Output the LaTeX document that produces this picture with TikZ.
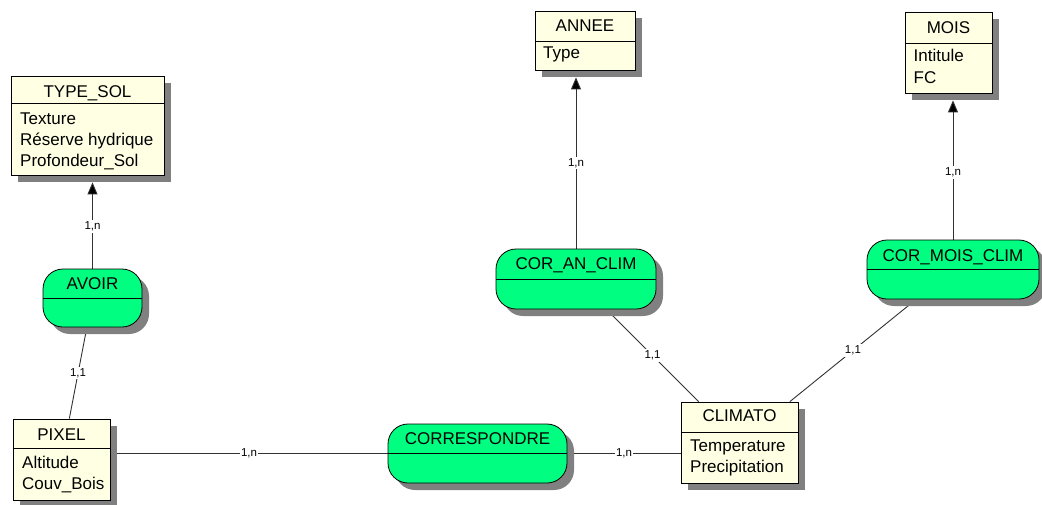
\documentclass[tikz,border=0pt]{standalone}
\usepackage{fontspec}
\setmainfont{Liberation Sans}
\usetikzlibrary{shadows,backgrounds,arrows.meta}

\definecolor{entfill}{RGB}{255,255,228}
\definecolor{assocfill}{RGB}{0,255,128}
\definecolor{shadowgray}{RGB}{128,128,128}
\definecolor{linkgray}{RGB}{50,50,50}

\tikzset{
  boxshadow/.style={drop shadow={shadow xshift=7pt, shadow yshift=-7pt, fill=shadowgray, opacity=1}},
  entity/.style={draw=black, line width=0.8pt, fill=entfill, boxshadow, inner sep=0pt},
  assoc/.style={draw=black, line width=0.8pt, fill=assocfill, rounded corners=20pt, boxshadow, inner sep=0pt},
  titletext/.style={font=\fontsize{17}{20}\selectfont, inner sep=0pt, text height=12pt, text depth=0pt},
  attrtext/.style={titletext, anchor=west},
  card/.style={font=\fontsize{11.5}{13}\selectfont, fill=white, inner sep=1.5pt},
  linkline/.style={draw=linkgray, line width=0.9pt},
  arrowline/.style={linkline, -{Triangle[width=10pt,length=12pt,fill=black]}, shorten >=7pt}
}

\begin{document}
\begin{tikzpicture}[x=1pt,y=-1pt]
    \useasboundingbox (0,0) rectangle (1042,504);

    % Entities
    \node[entity, minimum width=153pt, minimum height=99pt] (typesol) at (87.5,125.5) {};
    \draw[line width=0.8pt] (typesol.west |- 0,103) -- (typesol.east |- 0,103);
    \node[titletext] (typesolT) at (87.5,91.5) {TYPE\_SOL};
    \node[attrtext] (texture) at (20,118.5) {Texture};
    \node[attrtext] (reserve) at (20,139.5) {Réserve hydrique};
    \node[attrtext] (profondeur) at (20,160) {Profondeur\_Sol};

    \node[entity, minimum width=97pt, minimum height=81pt] (pixel) at (61.5,459.5) {};
    \draw[line width=0.8pt] (pixel.west |- 0,448) -- (pixel.east |- 0,448);
    \node[titletext] (pixelT) at (61.5,434) {PIXEL};
    \node[attrtext] (altitude) at (22,462.5) {Altitude};
    \node[attrtext] (couvbois) at (22,483) {Couv\_Bois};

    \node[entity, minimum width=117pt, minimum height=81pt] (climato) at (739.5,442.5) {};
    \draw[line width=0.8pt] (climato.west |- 0,432) -- (climato.east |- 0,432);
    \node[titletext] (climatoT) at (739.5,415.5) {CLIMATO};
    \node[attrtext] (temperature) at (690,445.5) {Temperature};
    \node[attrtext] (precipitation) at (690,466.5) {Precipitation};

    \node[entity, minimum width=100pt, minimum height=59pt] (annee) at (585,40.5) {};
    \draw[line width=0.8pt] (annee.west |- 0,41) -- (annee.east |- 0,41);
    \node[titletext] (anneeT) at (585,25) {ANNEE};
    \node[attrtext] (type) at (543,52.5) {Type};

    \node[entity, minimum width=87pt, minimum height=81pt] (mois) at (948.5,52.5) {};
    \draw[line width=0.8pt] (mois.west |- 0,43) -- (mois.east |- 0,43);
    \node[titletext] (moisT) at (948.5,27) {MOIS};
    \node[attrtext] (intitule) at (913.5,55) {Intitule};
    \node[attrtext] (fc) at (913.5,77.5) {FC};

    % Associations
    \node[assoc, minimum width=99pt, minimum height=58pt] (avoir) at (92.5,298) {};
    \draw[line width=0.8pt] (avoir.west) -- (avoir.east);
    \node[titletext] (avoirT) at (92.5,283) {AVOIR};

    \node[assoc, minimum width=179pt, minimum height=59pt] (correspondre) at (477.5,453.5) {};
    \draw[line width=0.8pt] (correspondre.west) -- (correspondre.east);
    \node[titletext] (correspondreT) at (477.5,438) {CORRESPONDRE};

    \node[assoc, minimum width=160pt, minimum height=60pt] (coran) at (576,279) {};
    \draw[line width=0.8pt] (coran.west) -- (coran.east);
    \node[titletext] (coranT) at (576,263.5) {COR\_AN\_CLIM};

    \node[assoc, minimum width=172pt, minimum height=59pt] (cormois) at (953,269.5) {};
    \draw[line width=0.8pt] (cormois.west) -- (cormois.east);
    \node[titletext] (cormoisT) at (953,255.5) {COR\_MOIS\_CLIM};

    % Links (behind the boxes and their shadows)
    \begin{scope}[on background layer]
        \fill[white] (0,0) rectangle (1042,504);
        \draw[arrowline] (avoir.north) -- (avoir.north |- typesol.south) node[card, pos=0.45] {1,n};
        \draw[arrowline] (coran.north) -- (coran.north |- annee.south) node[card, pos=0.48] {1,n};
        \draw[arrowline] (cormois.north) -- (cormois.north |- mois.south) node[card, pos=0.46] {1,n};
        \draw[linkline] (avoir) -- (pixel) node[card, midway] {1,1};
        \draw[linkline] (pixel.east |- correspondre) -- (correspondre.west) node[card, midway] {1,n};
        \draw[linkline] (correspondre.east) -- (correspondre.east -| climato.west) node[card, midway] {1,n};
        \draw[linkline] (coran) -- (climato) node[card, midway] {1,1};
        \draw[linkline] (cormois) -- (climato) node[card, midway] {1,1};
    \end{scope}

\end{tikzpicture}
\end{document}
